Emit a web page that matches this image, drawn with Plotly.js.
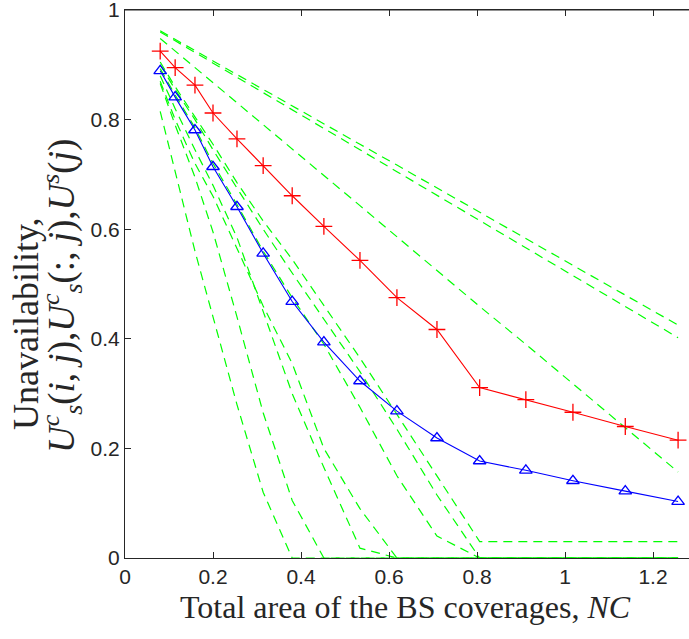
<!DOCTYPE html>
<html>
<head>
<meta charset="utf-8">
<script src="https://cdn.plot.ly/plotly-3.0.1.min.js"></script>
<style>
  html, body { margin: 0; padding: 0; background: #ffffff; }
  #chart { width: 689px; height: 639px; }
</style>
</head>
<body>
<div id="chart"></div>
<script>
// Total area of the BS coverages (x positions of all samples)
const NC = [0.08, 0.114, 0.159, 0.2, 0.2545, 0.314, 0.38, 0.452, 0.534, 0.618, 0.709, 0.806, 0.911, 1.018, 1.137, 1.257];

// U_s^c(:,j) - red line with '+' markers
const redValues = [0.925, 0.895, 0.863, 0.812, 0.765, 0.716, 0.661, 0.605, 0.543, 0.475, 0.417, 0.311, 0.289, 0.266, 0.240, 0.215];

// U^s(j) - blue line with triangle markers
const blueValues = [0.889, 0.841, 0.781, 0.714, 0.641, 0.556, 0.468, 0.394, 0.323, 0.268, 0.219, 0.177, 0.160, 0.141, 0.122, 0.103];

// U_s^c(i,j) - individual green dashed curves
const green1 = [0.962, 0.947, 0.926, 0.907, 0.882, 0.855, 0.825, 0.792, 0.755, 0.717, 0.675, 0.630, 0.583, 0.534, 0.480, 0.425];
const green2 = [0.960, 0.944, 0.923, 0.903, 0.877, 0.849, 0.818, 0.784, 0.745, 0.705, 0.662, 0.615, 0.566, 0.515, 0.459, 0.402];
const green3 = [0.948, 0.925, 0.895, 0.867, 0.830, 0.791, 0.746, 0.698, 0.643, 0.586, 0.525, 0.459, 0.390, 0.318, 0.238, 0.157];
const green4 = [0.905, 0.860, 0.805, 0.755, 0.685, 0.615, 0.545, 0.460, 0.365, 0.262, 0.150, 0.030, 0.030, 0.030, 0.030, 0.030];
const green5 = [0.900, 0.855, 0.800, 0.745, 0.675, 0.600, 0.520, 0.435, 0.340, 0.235, 0.115, 0, 0, 0, 0, 0];
const green6 = [0.893, 0.845, 0.785, 0.720, 0.645, 0.560, 0.475, 0.390, 0.275, 0.150, 0.040, 0, 0, 0, 0, 0];
const green7 = [0.880, 0.820, 0.745, 0.680, 0.585, 0.450, 0.300, 0.165, 0.018, 0, 0, 0, 0, 0, 0, 0];
const green8 = [0.870, 0.800, 0.720, 0.660, 0.565, 0.460, 0.355, 0.200, 0.090, 0, 0, 0, 0, 0, 0, 0];
const green9 = [0.866, 0.790, 0.695, 0.595, 0.440, 0.265, 0.105, 0, 0, 0, 0, 0, 0, 0, 0, 0];
const green10 = [0.815, 0.705, 0.560, 0.440, 0.280, 0.120, 0, 0, 0, 0, 0, 0, 0, 0, 0, 0];

const greenSeries = [green1, green2, green3, green4, green5, green6, green7, green8, green9, green10];

const xTicks = [0, 0.2, 0.4, 0.6, 0.8, 1, 1.2];
const xTickText = ['0', '0.2', '0.4', '0.6', '0.8', '1', '1.2'];
const yTicks = [0, 0.2, 0.4, 0.6, 0.8, 1];
const yTickText = ['0', '0.2', '0.4', '0.6', '0.8', '1'];

const xTitle = 'Total area of the BS coverages, <i>NC</i>';
const yTitleLine1 = 'Unavailability,';
const yTitleLine2 = '<i>U</i><sup><i>c</i></sup><sub><i>s</i></sub>(<i>i</i>, <i>j</i>),<i>U</i><sup><i>c</i></sup><sub><i>s</i></sub>(:, <i>j</i>),<i>U</i><sup><i>s</i></sup>(<i>j</i>)';

const traces = [];
greenSeries.forEach(function (g) {
  traces.push({
    x: NC, y: g, type: 'scatter', mode: 'lines',
    line: { color: '#00ff00', width: 1.2, dash: '9px,6px' },
    hoverinfo: 'skip', showlegend: false
  });
});
traces.push({
  x: NC, y: redValues, type: 'scatter', mode: 'lines+markers',
  line: { color: '#ff0000', width: 1.1 },
  marker: { symbol: 'cross-thin-open', size: 12, color: '#ff0000', line: { color: '#ff0000', width: 1.3 } },
  showlegend: false
});
traces.push({
  x: NC, y: blueValues, type: 'scatter', mode: 'lines+markers',
  line: { color: '#0000ff', width: 1.1 },
  marker: { symbol: 'triangle-up-open', size: 11, color: '#0000ff', line: { color: '#0000ff', width: 1.3 } },
  showlegend: false
});

const axisColor = '#262626';
const serif = 'Liberation Serif, Times New Roman, serif';
const layout = {
  width: 689, height: 639,
  margin: { l: 125, r: 0, t: 10, b: 81, pad: 0 },
  paper_bgcolor: '#ffffff', plot_bgcolor: '#ffffff',
  showlegend: false,
  xaxis: {
    range: [0, 1.2818],
    tickvals: xTicks, ticktext: xTickText,
    ticks: 'inside', ticklen: 6, tickwidth: 1, tickcolor: axisColor,
    showline: true, linecolor: axisColor, linewidth: 1, mirror: 'allticks',
    showgrid: false, zeroline: false,
    ticklabeloverflow: 'allow',
    tickfont: { family: 'Liberation Sans, Arial, sans-serif', size: 21, color: axisColor }
  },
  yaxis: {
    range: [0, 1],
    tickvals: yTicks, ticktext: yTickText,
    ticks: 'inside', ticklen: 6, tickwidth: 1, tickcolor: axisColor,
    showline: true, linecolor: axisColor, linewidth: 1, mirror: false,
    showgrid: false, zeroline: false,
    ticklabeloverflow: 'allow',
    tickfont: { family: 'Liberation Sans, Arial, sans-serif', size: 21, color: axisColor }
  },
  shapes: [{
    type: 'line', xref: 'paper', yref: 'paper', x0: 0, x1: 1, y0: 1, y1: 1,
    line: { color: axisColor, width: 1 }
  }],
  annotations: [
    {
      text: xTitle, xref: 'paper', yref: 'paper', x: 0.4965, y: 0,
      xanchor: 'center', yanchor: 'middle', yshift: -49, showarrow: false,
      font: { family: serif, size: 32, color: axisColor }
    },
    {
      text: yTitleLine1, xref: 'paper', yref: 'paper', x: 0, y: 0.427,
      xanchor: 'center', yanchor: 'middle', xshift: -99, textangle: -90, showarrow: false,
      font: { family: serif, size: 36, color: axisColor }
    },
    {
      text: yTitleLine2, xref: 'paper', yref: 'paper', x: 0, y: 0.478,
      xanchor: 'center', yanchor: 'middle', xshift: -63, textangle: -90, showarrow: false,
      font: { family: serif, size: 37, color: axisColor }
    }
  ]
};

Plotly.newPlot('chart', traces, layout, { displayModeBar: false, staticPlot: true });
</script>
</body>
</html>
